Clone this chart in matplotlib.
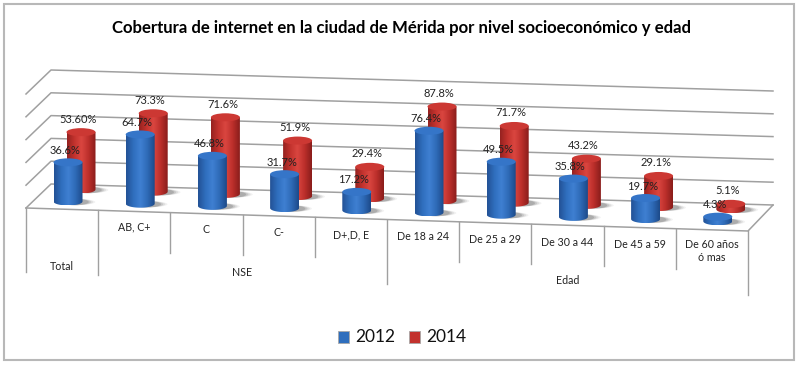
"""
Cobertura de internet en Merida: fake 3D cylinder chart drawn on a pixel canvas
"""

# Imports:

import numpy as np
import matplotlib
matplotlib.use('Agg')
import matplotlib.pyplot as plt
from matplotlib.colors import LinearSegmentedColormap
from matplotlib.patches import Ellipse, PathPatch, Polygon, Rectangle
from matplotlib.path import Path

plt.rcParams['font.family'] = ['Lato', 'DejaVu Sans']

# Data:

title = 'Cobertura de internet en la ciudad de Mérida por nivel socioeconómico y edad'
categories = ['Total', 'AB, C+', 'C', 'C-', 'D+,D, E', 'De 18 a 24', 'De 25 a 29',
              'De 30 a 44', 'De 45 a 59', 'De 60 años\nó mas']
values_2012 = [36.6, 64.7, 46.8, 31.7, 17.2, 76.4, 49.5, 35.8, 19.7, 4.3]
values_2014 = [53.6, 73.3, 71.6, 51.9, 29.4, 87.8, 71.7, 43.2, 29.1, 5.1]
labels_2012 = ['36.6%', '64.7%', '46.8%', '31.7%', '17.2%', '76.4%', '49.5%', '35.8%', '19.7%', '4.3%']
labels_2014 = ['53.60%', '73.3%', '71.6%', '51.9%', '29.4%', '87.8%', '71.7%', '43.2%', '29.1%', '5.1%']
grid_values = [0, 20, 40, 60, 80, 100]
group_names = ['NSE', 'Edad']
series_names = ['2012', '2014']

# Layout, in pixels of the 800x365 canvas:

STEP_X = 72.2
SLOPE = 2.2
PX_PER_PCT = 1.07
GRID_PX_PER_PCT = 1.14
HALF_W = 14.5
RY = 4.0

blue_cmap = LinearSegmentedColormap.from_list('b', ['#235296', '#2f6ebd', '#3f80d2', '#2e6ab6', '#1d4a8a'])
red_cmap = LinearSegmentedColormap.from_list('r', ['#962220', '#c2322d', '#da4640', '#bc2f2b', '#8a1d1b'])


# Functions:

def draw_cylinder(ax, cx, base_y, height, cmap, top_color, z):
    """Draw one shaded cylinder with its shadow; base_y is the centre of the bottom ellipse"""
    top_y = base_y - height
    # shadow on the floor, softened by stacking a few see-through ellipses
    for k, alpha in zip((1.4, 1.25, 1.1, 0.95), (0.07, 0.1, 0.14, 0.2)):
        ax.add_patch(Ellipse((cx + 7, base_y + 0.5), 2 * HALF_W * k, 2 * RY * 0.8, fc='#404040',
                             ec='none', alpha=alpha, zorder=z))
    verts = [(cx - HALF_W, top_y), (cx - HALF_W, base_y)]
    verts += [(cx + HALF_W * np.cos(t), base_y + RY * np.sin(t)) for t in np.linspace(np.pi, 0, 24)]
    verts += [(cx + HALF_W, top_y), (cx - HALF_W, top_y)]
    body = PathPatch(Path(verts), fc='none', ec='none', zorder=z + 0.1)
    ax.add_patch(body)
    im = ax.imshow(np.linspace(0, 1, 64)[None, :], cmap=cmap, aspect='auto', interpolation='bilinear',
                   extent=(cx - HALF_W, cx + HALF_W, base_y + RY, top_y - 1), zorder=z + 0.1)
    im.set_clip_path(body)
    ax.add_patch(Ellipse((cx, top_y), 2 * HALF_W, 2 * RY, fc=top_color, ec='none', zorder=z + 0.2))


# Plot:

fig = plt.figure(figsize=(8, 3.65), dpi=100)
ax = fig.add_axes((0, 0, 1, 1))
ax.set_xlim(0, 800)
ax.set_ylim(365, 0)
ax.axis('off')

# frame
ax.add_patch(Rectangle((4, 4), 789.5, 356, fc='white', ec='#b8b8b8', lw=1.5, zorder=0))

ax.text(401, 28, title, ha='center', va='center', fontsize=12.05, fontweight='bold', color='black')

# floor and walls
left_front = np.array([26.0, 208.0])
left_back = np.array([51.0, 184.0])
right_back = np.array([773.0, 205.0])
right_front = np.array([748.0, 231.0])
ax.add_patch(Polygon([left_front, left_back, right_back, right_front], fc='white', ec='none', zorder=1))
for v in grid_values:
    dy = v * GRID_PX_PER_PCT
    ax.plot([left_front[0], left_back[0], right_back[0]],
            [left_front[1] - dy, left_back[1] - dy, right_back[1] - dy],
            color='#a0a0a0', lw=1.1, zorder=1.5)
ax.plot([right_back[0], right_front[0], left_front[0]], [right_back[1], right_front[1], left_front[1]],
        color='#a0a0a0', lw=1.1, zorder=1.5)

# table under the floor: separators are long where a group starts or ends
sep_long = {0: 64, 1: 65, 5: 64, 10: 64}
for i in range(len(categories) + 1):
    sx = left_front[0] + i * STEP_X
    sy = left_front[1] + i * (right_front[1] - left_front[1]) / len(categories)
    ax.plot([sx, sx], [sy, sy + sep_long.get(i, 40)], color='#a0a0a0', lw=1.0, zorder=1.5)

# cylinders, back to front
for i in range(len(categories)):
    cx = 68 + i * STEP_X
    base = 201.5 + i * SLOPE
    draw_cylinder(ax, cx + 13, base - 12, values_2014[i] * PX_PER_PCT, red_cmap, '#cc3833', 2 + i * 0.01)
for i in range(len(categories)):
    cx = 68 + i * STEP_X
    base = 201.5 + i * SLOPE
    draw_cylinder(ax, cx, base, values_2012[i] * PX_PER_PCT, blue_cmap, '#3575c8', 3 + i * 0.01)

# value labels
for i in range(len(categories)):
    cx = 68 + i * STEP_X
    base = 201.5 + i * SLOPE
    ax.text(cx + 10, base - 12 - values_2014[i] * PX_PER_PCT - 13, labels_2014[i], ha='center', va='center',
            fontsize=8.0, color='#222222', zorder=5)
    ax.text(cx - 3, base - values_2012[i] * PX_PER_PCT - 12, labels_2012[i], ha='center', va='center',
            fontsize=8.0, color='#222222', zorder=5)

# category labels
for i, name in enumerate(categories):
    cx = 62 + i * STEP_X
    if i == 0:
        ly = 266
    else:
        ly = 224.5 + i * 2.5 + (4 if i == 9 else 0)
    ax.text(cx, ly, name, ha='center', va='center', fontsize=7.7, color='#222222', linespacing=1.25, zorder=5)
ax.text(242, 272, group_names[0], ha='center', va='center', fontsize=7.7, color='#222222')
ax.text(568, 281, group_names[1], ha='center', va='center', fontsize=7.7, color='#222222')

# legend
for name, lx, col in zip(series_names, (343, 414), ('#2f6ebd', '#c2322d')):
    ax.add_patch(Rectangle((lx - 5.5, 331), 11, 12, fc=col, ec='#a8a8a8', lw=0.6, zorder=5))
    ax.text(lx + 12.5, 337, name, ha='left', va='center', fontsize=12.5, color='#111111', zorder=5)

ax.set_xlim(0, 800)
ax.set_ylim(365, 0)
plt.savefig('out.png', dpi=100)
